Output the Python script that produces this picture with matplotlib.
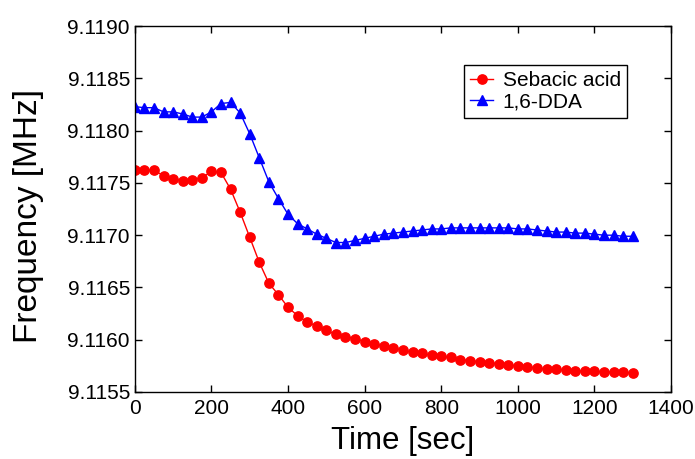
import numpy as np
import matplotlib
matplotlib.use("Agg")
import matplotlib.pyplot as plt

plt.rcParams['font.family'] = ['Liberation Sans', 'DejaVu Sans']

# time axis: one reading every 25 s
time_sec = np.arange(0, 1301, 25)

sebacic = [9.11762, 9.11762, 9.11762, 9.11757, 9.11754, 9.11752, 9.11753, 9.11755,
           9.11761, 9.11760, 9.11744, 9.11722, 9.11698, 9.11674, 9.11654, 9.11643,
           9.11631, 9.11623, 9.11617, 9.11613, 9.11609, 9.11605, 9.11603, 9.11601,
           9.11598, 9.11596, 9.11594, 9.11592, 9.11590, 9.11588, 9.11587, 9.11585,
           9.11584, 9.11583, 9.11581, 9.11580, 9.11579, 9.11578, 9.11577, 9.11576,
           9.11575, 9.11574, 9.11573, 9.11572, 9.11572, 9.11571, 9.11570, 9.11570,
           9.11570, 9.11569, 9.11569, 9.11569, 9.11568]

dda = [9.11823, 9.11822, 9.11822, 9.11818, 9.11818, 9.11816, 9.11813, 9.11813,
       9.11818, 9.11826, 9.11827, 9.11817, 9.11797, 9.11774, 9.11751, 9.11735,
       9.11720, 9.11711, 9.11706, 9.11701, 9.11697, 9.11693, 9.11693, 9.11695,
       9.11697, 9.11699, 9.11701, 9.11702, 9.11703, 9.11704, 9.11705, 9.11706,
       9.11706, 9.11707, 9.11707, 9.11707, 9.11707, 9.11707, 9.11707, 9.11707,
       9.11706, 9.11706, 9.11705, 9.11704, 9.11703, 9.11703, 9.11702, 9.11702,
       9.11701, 9.11700, 9.11700, 9.11699, 9.11699]

x_ticks = [0, 200, 400, 600, 800, 1000, 1200, 1400]
y_ticks = [9.1155, 9.1160, 9.1165, 9.1170, 9.1175, 9.1180, 9.1185, 9.1190]

fig = plt.figure(figsize=(6.95, 4.59), dpi=100)
ax = fig.add_axes([0.194, 0.146, 0.7715, 0.797])

ax.plot(time_sec, sebacic, '-o', color='red', lw=1, markersize=6.7, label='Sebacic acid')
ax.plot(time_sec, dda, '-^', color='blue', lw=1, markersize=7.5, label='1,6-DDA')

ax.set_xlim(0, 1400)
ax.set_ylim(9.1155, 9.1190)
ax.set_xticks(x_ticks)
ax.set_yticks(y_ticks)
ax.set_yticklabels([f"{v:.4f}" for v in y_ticks])
ax.tick_params(direction='in', top=True, right=True, length=5, width=1, labelsize=15)
ax.tick_params(axis='x', pad=5)
ax.tick_params(axis='y', pad=3.5)
for s in ax.spines.values():
    s.set_linewidth(1)

ax.set_xlabel('Time [sec]', fontsize=22.5)
ax.set_ylabel('Frequency [MHz]', fontsize=24)
ax.xaxis.set_label_coords(0.5, -0.093)
ax.yaxis.set_label_coords(-0.170, 0.481)

leg = ax.legend(loc='upper right', bbox_to_anchor=(0.918, 0.8934), fontsize=15,
                handlelength=1.1, handletextpad=0.45, borderpad=0.3, labelspacing=0.1,
                borderaxespad=0, fancybox=False, framealpha=1, edgecolor='black')
leg.get_frame().set_linewidth(1)

fig.savefig('out.png', dpi=100)
